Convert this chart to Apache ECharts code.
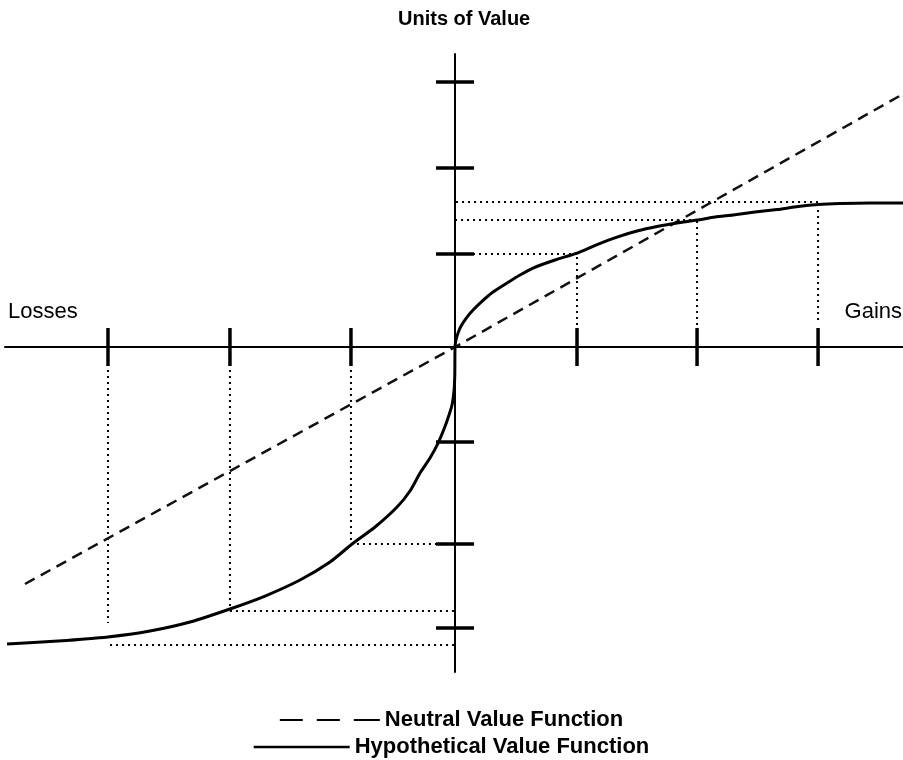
<!DOCTYPE html>
<html>
<head>
<meta charset="utf-8">
<script src="https://cdn.jsdelivr.net/npm/echarts@6/dist/echarts.min.js"></script>
<style>html,body{margin:0;padding:0;background:#fff}#c{width:903px;height:760px}</style>
</head>
<body>
<div id="c"></div>
<script>
// ---- data (x: gains/losses units, y: units of value) ----
var neutralX = [-3.554, 0, 3.702];
var neutralY = [-2.633, 0, 2.811];

var hypoX = [-3.702, -3.281, -2.868, -2.521, -2.190, -1.860, -1.570, -1.281, -1.033, -0.851, -0.661, -0.479, -0.372, -0.289,
             -0.207, -0.140, -0.091, -0.058, -0.025, -0.008, -0.002, 0,
             0.008, 0.025, 0.050, 0.099, 0.149, 0.207, 0.314, 0.430, 0.537, 0.645, 0.826, 1.008, 1.174, 1.339, 1.504,
             1.669, 1.835, 2.000, 2.149, 2.298, 2.479, 2.661, 2.835, 3.000, 3.182, 3.430, 3.702];
var hypoY = [-3.300, -3.267, -3.222, -3.156, -3.056, -2.911, -2.767, -2.589, -2.389, -2.189, -2.000, -1.778, -1.600, -1.400,
             -1.233, -1.067, -0.911, -0.789, -0.644, -0.478, -0.311, 0,
             0.078, 0.156, 0.233, 0.333, 0.411, 0.489, 0.611, 0.711, 0.800, 0.878, 0.967, 1.044, 1.139, 1.222, 1.289,
             1.339, 1.378, 1.411, 1.444, 1.467, 1.500, 1.528, 1.561, 1.583, 1.594, 1.600, 1.600];

var xTicks = [-2.868, -1.860, -0.860, 1.008, 2.0, 3.0];
var yTicks = [2.944, 1.989, 1.033, -1.056, -2.189, -3.122];

// dotted guide lines
var vGuideX    = [-2.868, -1.860, -0.860, 1.008, 2.0, 3.0];
var vGuideFrom = [-0.256, -0.256, -0.256, 0.244, 0.244, 0.300];
var vGuideTo   = [-3.067, -2.911, -2.167, 1.033, 1.411, 1.589];
var hGuideY    = [-3.311, -2.933, -2.189, 1.033, 1.411, 1.611];
var hGuideFrom = [-2.851, -1.860, -0.860, 1.008, 2.0, 3.0];

var seriesNames = ['Neutral Value Function', 'Hypothetical Value Function'];

// ---- chart ----
var chart = echarts.init(document.getElementById('c'), null, {renderer: 'canvas'});
var FONT = 'Liberation Sans, Arial, sans-serif';

function zip(a, b) { return a.map(function (v, i) { return [v, b[i]]; }); }

var dotted = {color: '#000', width: 2, type: [2, 4]};
var series = [];
vGuideX.forEach(function (x, i) {
  series.push({type: 'line', symbol: 'none', silent: true, z: 1, lineStyle: dotted,
    data: [[x, vGuideFrom[i]], [x, vGuideTo[i]]]});
});
hGuideY.forEach(function (y, i) {
  series.push({type: 'line', symbol: 'none', silent: true, z: 1, lineStyle: dotted,
    data: [[hGuideFrom[i], y], [0, y]]});
});
series.push({type: 'scatter', silent: true, z: 3, symbol: 'rect', symbolSize: [3.5, 38],
  itemStyle: {color: '#000', opacity: 1}, data: xTicks.map(function (x) { return [x, 0]; })});
series.push({type: 'scatter', silent: true, z: 3, symbol: 'rect', symbolSize: [38, 3.5],
  itemStyle: {color: '#000', opacity: 1}, data: yTicks.map(function (y) { return [0, y]; })});
series.push({name: seriesNames[0], type: 'line', symbol: 'none', z: 4,
  itemStyle: {color: '#000'},
  lineStyle: {color: '#111', width: 2.5, type: [11, 7]}, data: zip(neutralX, neutralY)});
series.push({name: seriesNames[1], type: 'line', symbol: 'none', z: 5, smooth: 0.2,
  itemStyle: {color: '#000'},
  lineStyle: {color: '#000', width: 3, join: 'round'}, data: zip(hypoX, hypoY)});

chart.setOption({
  animation: false,
  backgroundColor: '#fff',
  textStyle: {fontFamily: FONT},
  title: {text: 'Units of Value', left: 398, top: 9, padding: 0,
    textStyle: {fontFamily: FONT, fontSize: 20, fontWeight: 'bold', color: '#000'}},
  grid: {left: 5, right: 0, top: 54, bottom: 88, containLabel: false},
  xAxis: {type: 'value', min: -3.719, max: 3.702,
    axisLine: {show: true, onZero: true, lineStyle: {color: '#000', width: 2}},
    axisTick: {show: false}, axisLabel: {show: false}, splitLine: {show: false}},
  yAxis: {type: 'value', min: -3.611, max: 3.256,
    axisLine: {show: true, onZero: true, lineStyle: {color: '#000', width: 2}},
    axisTick: {show: false}, axisLabel: {show: false}, splitLine: {show: false}},
  legend: [
    {data: [{name: seriesNames[0], icon: 'path://M0,0h23v2h-23z M37,0h23v2h-23z M74,0h26v2h-26z'}],
      left: 'center', top: 704, itemWidth: 100, itemHeight: 2, itemGap: 0,
      itemStyle: {color: '#000'},
      textStyle: {fontFamily: FONT, fontSize: 22, fontWeight: 'bold', color: '#000'}},
    {data: [{name: seriesNames[1], icon: 'path://M0,0h96v2.5h-96z'}],
      left: 'center', top: 731, itemWidth: 96, itemHeight: 2.5, itemGap: 0,
      itemStyle: {color: '#000'},
      textStyle: {fontFamily: FONT, fontSize: 22, fontWeight: 'bold', color: '#000'}}
  ],
  graphic: [
    {type: 'text', left: 8, top: 301, style: {text: 'Losses', font: '22px ' + FONT, fill: '#000'}},
    {type: 'text', right: 1, top: 301, style: {text: 'Gains', font: '22px ' + FONT, fill: '#000'}}
  ],
  series: series
});
</script>
</body>
</html>
